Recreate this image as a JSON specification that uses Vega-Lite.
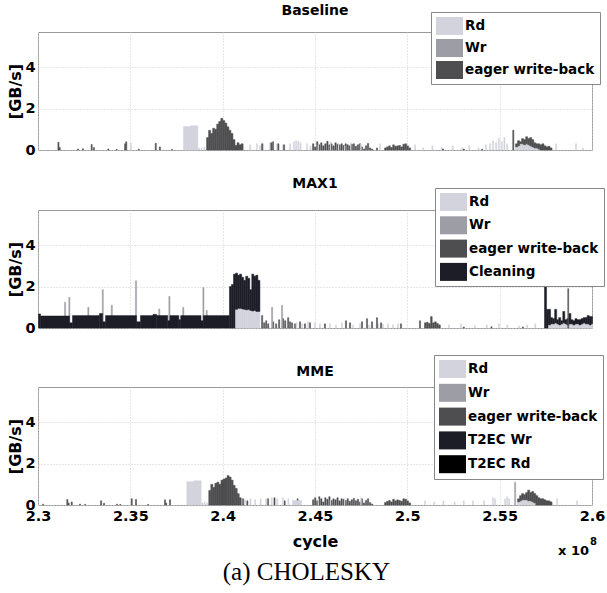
{
  "$schema": "https://vega.github.io/schema/vega-lite/v6.json",
  "background": "white",
  "padding": {"left": 7, "top": 3, "right": 0, "bottom": 0},
  "datasets": {
    "rank": [{"s":"Rd","k":0},{"s":"Wr","k":1},{"s":"eager write-back","k":2},{"s":"Cleaning","k":3},{"s":"T2EC Wr","k":4},{"s":"T2EC Rd","k":5}],
    "B": [
      {"s":"eager write-back","t":2.3105,"e":2.3111,"v":0.37},
      {"s":"eager write-back","t":2.3112,"e":2.3118,"v":0.12},
      {"s":"eager write-back","t":2.3211,"e":2.3217,"v":0.05},
      {"s":"eager write-back","t":2.3238,"e":2.3244,"v":0.06},
      {"s":"eager write-back","t":2.3285,"e":2.3291,"v":0.27},
      {"s":"eager write-back","t":2.3297,"e":2.3303,"v":0.12},
      {"s":"eager write-back","t":2.3375,"e":2.3381,"v":0.05},
      {"s":"eager write-back","t":2.342,"e":2.3426,"v":0.03},
      {"s":"eager write-back","t":2.3466,"e":2.3472,"v":0.3},
      {"s":"eager write-back","t":2.3472,"e":2.3478,"v":0.4},
      {"s":"Rd","t":2.3497,"e":2.3503,"v":0.35},
      {"s":"eager write-back","t":2.354,"e":2.3546,"v":0.04},
      {"s":"eager write-back","t":2.3632,"e":2.3638,"v":0.33},
      {"s":"eager write-back","t":2.3654,"e":2.366,"v":0.15},
      {"s":"eager write-back","t":2.372,"e":2.3726,"v":0.03},
      {"s":"Rd","t":2.3785,"e":2.3824,"v":1.13},
      {"s":"Rd","t":2.3824,"e":2.3863,"v":1.17},
      {"s":"Rd","t":2.3866,"e":2.3872,"v":0.1},
      {"s":"Rd","t":2.388,"e":2.3886,"v":0.08},
      {"s":"Rd","t":2.3895,"e":2.3901,"v":0.12},
      {"s":"eager write-back","t":2.391,"e":2.3921,"v":0.6},
      {"s":"eager write-back","t":2.3921,"e":2.3932,"v":0.95},
      {"s":"eager write-back","t":2.3932,"e":2.3943,"v":0.8},
      {"s":"eager write-back","t":2.3943,"e":2.3954,"v":1.05},
      {"s":"eager write-back","t":2.3954,"e":2.3965,"v":1.0},
      {"s":"eager write-back","t":2.3965,"e":2.3976,"v":1.25},
      {"s":"eager write-back","t":2.3976,"e":2.3987,"v":1.38},
      {"s":"eager write-back","t":2.3987,"e":2.3998,"v":1.53},
      {"s":"eager write-back","t":2.3998,"e":2.4009,"v":1.42},
      {"s":"eager write-back","t":2.4009,"e":2.402,"v":1.3},
      {"s":"eager write-back","t":2.402,"e":2.4031,"v":1.12},
      {"s":"eager write-back","t":2.4031,"e":2.4042,"v":0.95},
      {"s":"eager write-back","t":2.4042,"e":2.4053,"v":0.8},
      {"s":"eager write-back","t":2.4053,"e":2.4064,"v":0.5},
      {"s":"eager write-back","t":2.4064,"e":2.4075,"v":0.22},
      {"s":"eager write-back","t":2.4075,"e":2.4086,"v":0.35},
      {"s":"eager write-back","t":2.4086,"e":2.4097,"v":0.25},
      {"s":"eager write-back","t":2.4097,"e":2.4108,"v":0.3},
      {"s":"Rd","t":2.4143,"e":2.4149,"v":0.25},
      {"s":"Rd","t":2.418,"e":2.4186,"v":0.3},
      {"s":"Rd","t":2.4197,"e":2.4203,"v":0.2},
      {"s":"Rd","t":2.4213,"e":2.4219,"v":0.3},
      {"s":"Rd","t":2.4251,"e":2.4257,"v":0.35},
      {"s":"Rd","t":2.4289,"e":2.4295,"v":0.3},
      {"s":"Rd","t":2.4321,"e":2.4327,"v":0.25},
      {"s":"Rd","t":2.4359,"e":2.4365,"v":0.3},
      {"s":"Rd","t":2.438,"e":2.4386,"v":0.4},
      {"s":"Rd","t":2.4392,"e":2.4398,"v":0.45},
      {"s":"Rd","t":2.4404,"e":2.441,"v":0.42},
      {"s":"Rd","t":2.4416,"e":2.4422,"v":0.35},
      {"s":"Rd","t":2.4451,"e":2.4457,"v":0.3},
      {"s":"Rd","t":2.447,"e":2.4476,"v":0.2},
      {"s":"eager write-back","t":2.4208,"e":2.4214,"v":0.3},
      {"s":"eager write-back","t":2.4258,"e":2.4264,"v":0.35},
      {"s":"eager write-back","t":2.4267,"e":2.4273,"v":0.4},
      {"s":"eager write-back","t":2.4296,"e":2.4302,"v":0.3},
      {"s":"eager write-back","t":2.4327,"e":2.4333,"v":0.25},
      {"s":"eager write-back","t":2.4484,"e":2.4491,"v":0.3},
      {"s":"eager write-back","t":2.4495,"e":2.4502,"v":0.15},
      {"s":"eager write-back","t":2.4506,"e":2.4513,"v":0.4},
      {"s":"eager write-back","t":2.4517,"e":2.4524,"v":0.25},
      {"s":"eager write-back","t":2.4528,"e":2.4535,"v":0.35},
      {"s":"eager write-back","t":2.4539,"e":2.4546,"v":0.2},
      {"s":"eager write-back","t":2.455,"e":2.4557,"v":0.3},
      {"s":"eager write-back","t":2.4561,"e":2.4568,"v":0.42},
      {"s":"eager write-back","t":2.4572,"e":2.4579,"v":0.25},
      {"s":"eager write-back","t":2.4583,"e":2.459,"v":0.3},
      {"s":"eager write-back","t":2.4594,"e":2.4601,"v":0.2},
      {"s":"eager write-back","t":2.4605,"e":2.4612,"v":0.35},
      {"s":"eager write-back","t":2.4616,"e":2.4623,"v":0.28},
      {"s":"eager write-back","t":2.4627,"e":2.4634,"v":0.25},
      {"s":"eager write-back","t":2.4638,"e":2.4645,"v":0.3},
      {"s":"eager write-back","t":2.4649,"e":2.4656,"v":0.22},
      {"s":"eager write-back","t":2.466,"e":2.4667,"v":0.3},
      {"s":"eager write-back","t":2.4671,"e":2.4678,"v":0.25},
      {"s":"eager write-back","t":2.4682,"e":2.4689,"v":0.2},
      {"s":"eager write-back","t":2.4693,"e":2.47,"v":0.28},
      {"s":"eager write-back","t":2.4704,"e":2.4711,"v":0.3},
      {"s":"eager write-back","t":2.4715,"e":2.4722,"v":0.18},
      {"s":"eager write-back","t":2.4726,"e":2.4733,"v":0.25},
      {"s":"eager write-back","t":2.4737,"e":2.4744,"v":0.3},
      {"s":"eager write-back","t":2.4748,"e":2.4755,"v":0.15},
      {"s":"eager write-back","t":2.4759,"e":2.4766,"v":0.05},
      {"s":"eager write-back","t":2.477,"e":2.4777,"v":0.2},
      {"s":"eager write-back","t":2.4781,"e":2.4788,"v":0.32},
      {"s":"eager write-back","t":2.4792,"e":2.4799,"v":0.1},
      {"s":"eager write-back","t":2.4803,"e":2.481,"v":0.05},
      {"s":"Rd","t":2.4513,"e":2.4517,"v":0.25},
      {"s":"Rd","t":2.4579,"e":2.4583,"v":0.4},
      {"s":"Rd","t":2.4623,"e":2.4627,"v":0.3},
      {"s":"Rd","t":2.4656,"e":2.466,"v":0.2},
      {"s":"Rd","t":2.4689,"e":2.4693,"v":0.35},
      {"s":"Rd","t":2.4744,"e":2.4748,"v":0.3},
      {"s":"eager write-back","t":2.483,"e":2.4836,"v":0.1},
      {"s":"Rd","t":2.4846,"e":2.4852,"v":0.3},
      {"s":"eager write-back","t":2.4874,"e":2.4883,"v":0.1},
      {"s":"eager write-back","t":2.4885,"e":2.4894,"v":0.15},
      {"s":"eager write-back","t":2.4896,"e":2.4905,"v":0.2},
      {"s":"eager write-back","t":2.4907,"e":2.4916,"v":0.12},
      {"s":"eager write-back","t":2.4918,"e":2.4927,"v":0.25},
      {"s":"eager write-back","t":2.4929,"e":2.4938,"v":0.18},
      {"s":"eager write-back","t":2.494,"e":2.4949,"v":0.2},
      {"s":"eager write-back","t":2.4951,"e":2.496,"v":0.22},
      {"s":"eager write-back","t":2.4962,"e":2.4971,"v":0.15},
      {"s":"eager write-back","t":2.4973,"e":2.4982,"v":0.28},
      {"s":"eager write-back","t":2.4984,"e":2.4993,"v":0.3},
      {"s":"eager write-back","t":2.4995,"e":2.5004,"v":0.2},
      {"s":"eager write-back","t":2.5006,"e":2.5015,"v":0.1},
      {"s":"Rd","t":2.5036,"e":2.5042,"v":0.25},
      {"s":"Rd","t":2.508,"e":2.5086,"v":0.1},
      {"s":"Rd","t":2.513,"e":2.5136,"v":0.2},
      {"s":"Rd","t":2.518,"e":2.5186,"v":0.15},
      {"s":"Rd","t":2.524,"e":2.5246,"v":0.2},
      {"s":"Rd","t":2.529,"e":2.5296,"v":0.1},
      {"s":"Rd","t":2.533,"e":2.5336,"v":0.2},
      {"s":"Rd","t":2.538,"e":2.5386,"v":0.1},
      {"s":"Rd","t":2.542,"e":2.5426,"v":0.25},
      {"s":"eager write-back","t":2.5188,"e":2.5194,"v":0.05},
      {"s":"eager write-back","t":2.53,"e":2.5306,"v":0.05},
      {"s":"eager write-back","t":2.54,"e":2.5406,"v":0.04},
      {"s":"Rd","t":2.5442,"e":2.5448,"v":0.3},
      {"s":"Rd","t":2.5458,"e":2.5464,"v":0.45},
      {"s":"Rd","t":2.5475,"e":2.5481,"v":0.35},
      {"s":"Rd","t":2.549,"e":2.5496,"v":0.55},
      {"s":"Rd","t":2.5506,"e":2.5512,"v":0.4},
      {"s":"Rd","t":2.552,"e":2.5526,"v":0.6},
      {"s":"Rd","t":2.5535,"e":2.5541,"v":0.3},
      {"s":"eager write-back","t":2.5568,"e":2.5574,"v":0.96},
      {"s":"Rd","t":2.5583,"e":2.5594,"v":0.15},
      {"s":"Rd","t":2.5594,"e":2.5605,"v":0.2},
      {"s":"Rd","t":2.5605,"e":2.5616,"v":0.3},
      {"s":"Rd","t":2.5616,"e":2.5627,"v":0.3},
      {"s":"Rd","t":2.5627,"e":2.5638,"v":0.25},
      {"s":"Rd","t":2.5638,"e":2.5649,"v":0.3},
      {"s":"Rd","t":2.5649,"e":2.566,"v":0.25},
      {"s":"Rd","t":2.566,"e":2.5671,"v":0.2},
      {"s":"Rd","t":2.5671,"e":2.5682,"v":0.15},
      {"s":"Rd","t":2.5682,"e":2.5693,"v":0.1},
      {"s":"Rd","t":2.5693,"e":2.5704,"v":0.1},
      {"s":"Rd","t":2.5704,"e":2.5715,"v":0.05},
      {"s":"eager write-back","t":2.5583,"e":2.5594,"v":0.15},
      {"s":"eager write-back","t":2.5594,"e":2.5605,"v":0.25},
      {"s":"eager write-back","t":2.5605,"e":2.5616,"v":0.1},
      {"s":"eager write-back","t":2.5616,"e":2.5627,"v":0.25},
      {"s":"eager write-back","t":2.5627,"e":2.5638,"v":0.25},
      {"s":"eager write-back","t":2.5638,"e":2.5649,"v":0.34},
      {"s":"eager write-back","t":2.5649,"e":2.566,"v":0.3},
      {"s":"eager write-back","t":2.566,"e":2.5671,"v":0.4},
      {"s":"eager write-back","t":2.5671,"e":2.5682,"v":0.35},
      {"s":"eager write-back","t":2.5682,"e":2.5693,"v":0.25},
      {"s":"eager write-back","t":2.5693,"e":2.5704,"v":0.2},
      {"s":"eager write-back","t":2.5704,"e":2.5715,"v":0.25},
      {"s":"eager write-back","t":2.5715,"e":2.5726,"v":0.25},
      {"s":"eager write-back","t":2.5726,"e":2.5737,"v":0.3},
      {"s":"eager write-back","t":2.5737,"e":2.5748,"v":0.2},
      {"s":"eager write-back","t":2.5748,"e":2.5759,"v":0.15},
      {"s":"eager write-back","t":2.5759,"e":2.577,"v":0.18},
      {"s":"eager write-back","t":2.577,"e":2.5781,"v":0.1},
      {"s":"Rd","t":2.58,"e":2.5806,"v":0.3},
      {"s":"Rd","t":2.5908,"e":2.5914,"v":0.3},
      {"s":"Rd","t":2.5945,"e":2.5951,"v":0.1}
    ],
    "M": [
      {"s":"Wr","t":2.3141,"e":2.3147,"v":1.24},
      {"s":"Wr","t":2.3164,"e":2.317,"v":1.48},
      {"s":"Wr","t":2.3267,"e":2.3273,"v":1.0},
      {"s":"Wr","t":2.3345,"e":2.3351,"v":1.85},
      {"s":"Wr","t":2.3394,"e":2.34,"v":1.1},
      {"s":"Wr","t":2.3525,"e":2.3531,"v":2.28},
      {"s":"Wr","t":2.3651,"e":2.3657,"v":0.92},
      {"s":"Wr","t":2.3706,"e":2.3712,"v":1.53},
      {"s":"Wr","t":2.3781,"e":2.3787,"v":1.0},
      {"s":"Wr","t":2.389,"e":2.3896,"v":1.96},
      {"s":"Wr","t":2.3908,"e":2.3914,"v":0.85},
      {"s":"Cleaning","t":2.3,"e":2.3011,"v":0.68},
      {"s":"Cleaning","t":2.3011,"e":2.3168,"v":0.58},
      {"s":"Cleaning","t":2.3168,"e":2.3184,"v":0.25},
      {"s":"Cleaning","t":2.3184,"e":2.333,"v":0.6},
      {"s":"Cleaning","t":2.333,"e":2.3347,"v":0.7},
      {"s":"Cleaning","t":2.3347,"e":2.3363,"v":0.3},
      {"s":"Cleaning","t":2.3363,"e":2.3531,"v":0.6},
      {"s":"Cleaning","t":2.3531,"e":2.3552,"v":0.3},
      {"s":"Cleaning","t":2.3552,"e":2.362,"v":0.6},
      {"s":"Cleaning","t":2.362,"e":2.364,"v":0.66},
      {"s":"Cleaning","t":2.364,"e":2.37,"v":0.6},
      {"s":"Cleaning","t":2.37,"e":2.3712,"v":0.35},
      {"s":"Cleaning","t":2.3712,"e":2.376,"v":0.6},
      {"s":"Cleaning","t":2.376,"e":2.377,"v":0.4},
      {"s":"Cleaning","t":2.377,"e":2.388,"v":0.6},
      {"s":"Cleaning","t":2.388,"e":2.3892,"v":0.35},
      {"s":"Cleaning","t":2.3892,"e":2.4034,"v":0.6},
      {"s":"Cleaning","t":2.4034,"e":2.4045,"v":2.0},
      {"s":"Cleaning","t":2.4045,"e":2.4056,"v":2.1},
      {"s":"Cleaning","t":2.4056,"e":2.4067,"v":2.6},
      {"s":"Rd","t":2.4067,"e":2.4078,"v":0.9},
      {"s":"Rd","t":2.4078,"e":2.4089,"v":0.95},
      {"s":"Rd","t":2.4089,"e":2.41,"v":0.95},
      {"s":"Rd","t":2.41,"e":2.4111,"v":0.92},
      {"s":"Rd","t":2.4111,"e":2.4122,"v":0.9},
      {"s":"Rd","t":2.4122,"e":2.4133,"v":0.88},
      {"s":"Rd","t":2.4133,"e":2.4144,"v":0.9},
      {"s":"Rd","t":2.4144,"e":2.4155,"v":0.85},
      {"s":"Rd","t":2.4155,"e":2.4166,"v":0.82},
      {"s":"Rd","t":2.4166,"e":2.4177,"v":0.85},
      {"s":"Rd","t":2.4177,"e":2.4188,"v":0.8},
      {"s":"Rd","t":2.4188,"e":2.4199,"v":0.8},
      {"s":"Cleaning","t":2.4067,"e":2.4078,"v":1.75},
      {"s":"Cleaning","t":2.4078,"e":2.4089,"v":1.6},
      {"s":"Cleaning","t":2.4089,"e":2.41,"v":1.65},
      {"s":"Cleaning","t":2.41,"e":2.4111,"v":1.53},
      {"s":"Cleaning","t":2.4111,"e":2.4122,"v":1.4},
      {"s":"Cleaning","t":2.4122,"e":2.4133,"v":1.62},
      {"s":"Cleaning","t":2.4133,"e":2.4144,"v":1.5},
      {"s":"Cleaning","t":2.4144,"e":2.4155,"v":1.0},
      {"s":"Cleaning","t":2.4155,"e":2.4166,"v":1.78},
      {"s":"Cleaning","t":2.4166,"e":2.4177,"v":1.65},
      {"s":"Cleaning","t":2.4177,"e":2.4188,"v":1.75},
      {"s":"Cleaning","t":2.4188,"e":2.4199,"v":1.5},
      {"s":"eager write-back","t":2.4208,"e":2.4214,"v":0.6},
      {"s":"eager write-back","t":2.4219,"e":2.4225,"v":0.25},
      {"s":"eager write-back","t":2.423,"e":2.4236,"v":0.35},
      {"s":"eager write-back","t":2.4241,"e":2.4247,"v":0.2},
      {"s":"eager write-back","t":2.4268,"e":2.4274,"v":0.3},
      {"s":"eager write-back","t":2.4284,"e":2.429,"v":0.2},
      {"s":"eager write-back","t":2.43,"e":2.4306,"v":0.4},
      {"s":"eager write-back","t":2.4322,"e":2.4328,"v":0.45},
      {"s":"eager write-back","t":2.4333,"e":2.4339,"v":0.35},
      {"s":"eager write-back","t":2.4349,"e":2.4355,"v":0.5},
      {"s":"eager write-back","t":2.4359,"e":2.4365,"v":0.3},
      {"s":"eager write-back","t":2.437,"e":2.4376,"v":0.25},
      {"s":"eager write-back","t":2.4386,"e":2.4392,"v":0.2},
      {"s":"eager write-back","t":2.4413,"e":2.4419,"v":0.3},
      {"s":"eager write-back","t":2.444,"e":2.4446,"v":0.2},
      {"s":"eager write-back","t":2.4467,"e":2.4473,"v":0.25},
      {"s":"Wr","t":2.4262,"e":2.4268,"v":1.0},
      {"s":"Wr","t":2.4316,"e":2.4322,"v":1.1},
      {"s":"Rd","t":2.4395,"e":2.4401,"v":0.25},
      {"s":"Rd","t":2.4424,"e":2.443,"v":0.2},
      {"s":"Rd","t":2.4457,"e":2.4463,"v":0.3},
      {"s":"Rd","t":2.4494,"e":2.45,"v":0.25},
      {"s":"Rd","t":2.4521,"e":2.4527,"v":0.2},
      {"s":"Rd","t":2.4575,"e":2.4581,"v":0.2},
      {"s":"Rd","t":2.4608,"e":2.4614,"v":0.15},
      {"s":"Rd","t":2.464,"e":2.4646,"v":0.25},
      {"s":"Rd","t":2.47,"e":2.4706,"v":0.15},
      {"s":"Rd","t":2.4738,"e":2.4744,"v":0.2},
      {"s":"Rd","t":2.4787,"e":2.4793,"v":0.15},
      {"s":"Rd","t":2.4836,"e":2.4842,"v":0.2},
      {"s":"Rd","t":2.4863,"e":2.4869,"v":0.18},
      {"s":"Rd","t":2.489,"e":2.4896,"v":0.2},
      {"s":"Rd","t":2.4917,"e":2.4923,"v":0.15},
      {"s":"Rd","t":2.4944,"e":2.495,"v":0.2},
      {"s":"eager write-back","t":2.4548,"e":2.4554,"v":0.2},
      {"s":"eager write-back","t":2.4662,"e":2.4668,"v":0.35},
      {"s":"eager write-back","t":2.4684,"e":2.469,"v":0.25},
      {"s":"eager write-back","t":2.4749,"e":2.4755,"v":0.3},
      {"s":"eager write-back","t":2.4776,"e":2.4782,"v":0.45},
      {"s":"eager write-back","t":2.4803,"e":2.4809,"v":0.3},
      {"s":"eager write-back","t":2.483,"e":2.4836,"v":0.5},
      {"s":"eager write-back","t":2.4852,"e":2.4858,"v":0.25},
      {"s":"eager write-back","t":2.496,"e":2.4966,"v":0.2},
      {"s":"eager write-back","t":2.5063,"e":2.5069,"v":0.35},
      {"s":"eager write-back","t":2.509,"e":2.5099,"v":0.25},
      {"s":"eager write-back","t":2.5101,"e":2.511,"v":0.28},
      {"s":"eager write-back","t":2.5112,"e":2.5121,"v":0.22},
      {"s":"eager write-back","t":2.5123,"e":2.5132,"v":0.55},
      {"s":"eager write-back","t":2.5134,"e":2.5143,"v":0.25},
      {"s":"eager write-back","t":2.5145,"e":2.5154,"v":0.3},
      {"s":"eager write-back","t":2.5156,"e":2.5165,"v":0.22},
      {"s":"eager write-back","t":2.5167,"e":2.5176,"v":0.15},
      {"s":"Rd","t":2.522,"e":2.5226,"v":0.15},
      {"s":"Rd","t":2.5285,"e":2.5291,"v":0.2},
      {"s":"Rd","t":2.536,"e":2.5366,"v":0.12},
      {"s":"Rd","t":2.5425,"e":2.5431,"v":0.15},
      {"s":"Rd","t":2.549,"e":2.5496,"v":0.2},
      {"s":"Rd","t":2.5535,"e":2.5541,"v":0.15},
      {"s":"Rd","t":2.56,"e":2.5606,"v":0.1},
      {"s":"Rd","t":2.5643,"e":2.5649,"v":0.15},
      {"s":"Rd","t":2.5687,"e":2.5693,"v":0.2},
      {"s":"eager write-back","t":2.53,"e":2.5306,"v":0.05},
      {"s":"eager write-back","t":2.545,"e":2.5456,"v":0.06},
      {"s":"eager write-back","t":2.562,"e":2.5626,"v":0.05},
      {"s":"Cleaning","t":2.574,"e":2.5751,"v":3.0},
      {"s":"Cleaning","t":2.5751,"e":2.5762,"v":0.9},
      {"s":"Rd","t":2.5762,"e":2.5773,"v":0.15},
      {"s":"Rd","t":2.5773,"e":2.5784,"v":0.2},
      {"s":"Rd","t":2.5784,"e":2.5795,"v":0.2},
      {"s":"Rd","t":2.5795,"e":2.5806,"v":0.25},
      {"s":"Rd","t":2.5806,"e":2.5817,"v":0.2},
      {"s":"Rd","t":2.5817,"e":2.5828,"v":0.15},
      {"s":"Rd","t":2.5828,"e":2.5839,"v":0.2},
      {"s":"Rd","t":2.5839,"e":2.585,"v":0.25},
      {"s":"Rd","t":2.585,"e":2.5861,"v":0.2},
      {"s":"Rd","t":2.5861,"e":2.5872,"v":0.15},
      {"s":"Rd","t":2.5872,"e":2.5883,"v":0.2},
      {"s":"Rd","t":2.5883,"e":2.5894,"v":0.2},
      {"s":"Rd","t":2.5894,"e":2.5905,"v":0.15},
      {"s":"Rd","t":2.5905,"e":2.5916,"v":0.2},
      {"s":"Rd","t":2.5916,"e":2.5927,"v":0.2},
      {"s":"Rd","t":2.5927,"e":2.5938,"v":0.15},
      {"s":"Rd","t":2.5938,"e":2.5949,"v":0.2},
      {"s":"Rd","t":2.5949,"e":2.596,"v":0.25},
      {"s":"Rd","t":2.596,"e":2.5971,"v":0.2},
      {"s":"Rd","t":2.5971,"e":2.5982,"v":0.2},
      {"s":"Rd","t":2.5982,"e":2.5993,"v":0.15},
      {"s":"Rd","t":2.5993,"e":2.6,"v":0.2},
      {"s":"Cleaning","t":2.5762,"e":2.5773,"v":0.75},
      {"s":"Cleaning","t":2.5773,"e":2.5784,"v":0.3},
      {"s":"Cleaning","t":2.5784,"e":2.5795,"v":0.25},
      {"s":"Cleaning","t":2.5795,"e":2.5806,"v":0.65},
      {"s":"Cleaning","t":2.5806,"e":2.5817,"v":0.2},
      {"s":"Cleaning","t":2.5817,"e":2.5828,"v":0.35},
      {"s":"Cleaning","t":2.5828,"e":2.5839,"v":0.15},
      {"s":"Cleaning","t":2.5839,"e":2.585,"v":0.55},
      {"s":"Cleaning","t":2.585,"e":2.5861,"v":0.2},
      {"s":"Cleaning","t":2.5861,"e":2.5872,"v":0.3},
      {"s":"Cleaning","t":2.5872,"e":2.5883,"v":0.5},
      {"s":"Cleaning","t":2.5883,"e":2.5894,"v":0.2},
      {"s":"Cleaning","t":2.5894,"e":2.5905,"v":0.2},
      {"s":"Cleaning","t":2.5905,"e":2.5916,"v":0.25},
      {"s":"Cleaning","t":2.5916,"e":2.5927,"v":0.2},
      {"s":"Cleaning","t":2.5927,"e":2.5938,"v":0.25},
      {"s":"Cleaning","t":2.5938,"e":2.5949,"v":0.25},
      {"s":"Cleaning","t":2.5949,"e":2.596,"v":0.25},
      {"s":"Cleaning","t":2.596,"e":2.5971,"v":0.3},
      {"s":"Cleaning","t":2.5971,"e":2.5982,"v":0.4},
      {"s":"Cleaning","t":2.5982,"e":2.5993,"v":0.4},
      {"s":"Cleaning","t":2.5993,"e":2.6,"v":0.35},
      {"s":"eager write-back","t":2.5866,"e":2.5871,"v":1.9}
    ],
    "E": [
      {"s":"eager write-back","t":2.3022,"e":2.3028,"v":0.04},
      {"s":"eager write-back","t":2.3153,"e":2.3159,"v":0.27},
      {"s":"eager write-back","t":2.316,"e":2.3166,"v":0.1},
      {"s":"eager write-back","t":2.3177,"e":2.3183,"v":0.15},
      {"s":"eager write-back","t":2.3222,"e":2.3228,"v":0.04},
      {"s":"eager write-back","t":2.325,"e":2.3256,"v":0.03},
      {"s":"eager write-back","t":2.3336,"e":2.3342,"v":0.2},
      {"s":"eager write-back","t":2.3352,"e":2.3358,"v":0.08},
      {"s":"eager write-back","t":2.3422,"e":2.3428,"v":0.04},
      {"s":"eager write-back","t":2.344,"e":2.3446,"v":0.03},
      {"s":"eager write-back","t":2.3502,"e":2.3508,"v":0.3},
      {"s":"eager write-back","t":2.3525,"e":2.3531,"v":0.27},
      {"s":"eager write-back","t":2.359,"e":2.3596,"v":0.03},
      {"s":"eager write-back","t":2.3682,"e":2.3688,"v":0.25},
      {"s":"eager write-back","t":2.3688,"e":2.3694,"v":0.1},
      {"s":"eager write-back","t":2.3709,"e":2.3715,"v":0.25},
      {"s":"Rd","t":2.3803,"e":2.3842,"v":1.13},
      {"s":"Rd","t":2.3842,"e":2.3881,"v":1.17},
      {"s":"Rd","t":2.3885,"e":2.3891,"v":0.1},
      {"s":"Rd","t":2.3897,"e":2.3903,"v":0.15},
      {"s":"Rd","t":2.391,"e":2.3916,"v":0.1},
      {"s":"eager write-back","t":2.3922,"e":2.3933,"v":0.7},
      {"s":"eager write-back","t":2.3933,"e":2.3944,"v":1.0},
      {"s":"eager write-back","t":2.3944,"e":2.3955,"v":0.85},
      {"s":"eager write-back","t":2.3955,"e":2.3966,"v":1.05},
      {"s":"eager write-back","t":2.3966,"e":2.3977,"v":1.1},
      {"s":"eager write-back","t":2.3977,"e":2.3988,"v":1.0},
      {"s":"eager write-back","t":2.3988,"e":2.3999,"v":1.2},
      {"s":"eager write-back","t":2.3999,"e":2.401,"v":1.25},
      {"s":"eager write-back","t":2.401,"e":2.4021,"v":1.3},
      {"s":"eager write-back","t":2.4021,"e":2.4032,"v":1.42},
      {"s":"eager write-back","t":2.4032,"e":2.4043,"v":1.35},
      {"s":"eager write-back","t":2.4043,"e":2.4054,"v":1.2},
      {"s":"eager write-back","t":2.4054,"e":2.4065,"v":0.95},
      {"s":"eager write-back","t":2.4065,"e":2.4076,"v":0.8},
      {"s":"eager write-back","t":2.4076,"e":2.4087,"v":0.55},
      {"s":"eager write-back","t":2.4087,"e":2.4098,"v":0.35},
      {"s":"eager write-back","t":2.4105,"e":2.4111,"v":0.3},
      {"s":"eager write-back","t":2.4128,"e":2.4134,"v":0.2},
      {"s":"eager write-back","t":2.424,"e":2.4246,"v":0.3},
      {"s":"eager write-back","t":2.4275,"e":2.4281,"v":0.35},
      {"s":"eager write-back","t":2.433,"e":2.4336,"v":0.2},
      {"s":"eager write-back","t":2.44,"e":2.4406,"v":0.3},
      {"s":"Rd","t":2.4115,"e":2.4121,"v":0.25},
      {"s":"Rd","t":2.4145,"e":2.4151,"v":0.3},
      {"s":"Rd","t":2.417,"e":2.4176,"v":0.25},
      {"s":"Rd","t":2.42,"e":2.4206,"v":0.3},
      {"s":"Rd","t":2.423,"e":2.4236,"v":0.3},
      {"s":"Rd","t":2.426,"e":2.4266,"v":0.35},
      {"s":"Rd","t":2.429,"e":2.4296,"v":0.3},
      {"s":"Rd","t":2.432,"e":2.4326,"v":0.35},
      {"s":"Rd","t":2.435,"e":2.4356,"v":0.3},
      {"s":"Rd","t":2.4375,"e":2.4424,"v":0.22},
      {"s":"eager write-back","t":2.4484,"e":2.4491,"v":0.25},
      {"s":"eager write-back","t":2.4495,"e":2.4502,"v":0.35},
      {"s":"eager write-back","t":2.4506,"e":2.4513,"v":0.2},
      {"s":"eager write-back","t":2.4517,"e":2.4524,"v":0.4},
      {"s":"eager write-back","t":2.4528,"e":2.4535,"v":0.3},
      {"s":"eager write-back","t":2.4539,"e":2.4546,"v":0.15},
      {"s":"eager write-back","t":2.455,"e":2.4557,"v":0.35},
      {"s":"eager write-back","t":2.4561,"e":2.4568,"v":0.28},
      {"s":"eager write-back","t":2.4572,"e":2.4579,"v":0.4},
      {"s":"eager write-back","t":2.4583,"e":2.459,"v":0.22},
      {"s":"eager write-back","t":2.4594,"e":2.4601,"v":0.3},
      {"s":"eager write-back","t":2.4605,"e":2.4612,"v":0.25},
      {"s":"eager write-back","t":2.4616,"e":2.4623,"v":0.35},
      {"s":"eager write-back","t":2.4627,"e":2.4634,"v":0.2},
      {"s":"eager write-back","t":2.4638,"e":2.4645,"v":0.3},
      {"s":"eager write-back","t":2.4649,"e":2.4656,"v":0.28},
      {"s":"eager write-back","t":2.466,"e":2.4667,"v":0.22},
      {"s":"eager write-back","t":2.4671,"e":2.4678,"v":0.3},
      {"s":"eager write-back","t":2.4682,"e":2.4689,"v":0.18},
      {"s":"eager write-back","t":2.4693,"e":2.47,"v":0.25},
      {"s":"eager write-back","t":2.4704,"e":2.4711,"v":0.32},
      {"s":"eager write-back","t":2.4715,"e":2.4722,"v":0.2},
      {"s":"eager write-back","t":2.4726,"e":2.4733,"v":0.28},
      {"s":"eager write-back","t":2.4737,"e":2.4744,"v":0.15},
      {"s":"eager write-back","t":2.4748,"e":2.4755,"v":0.3},
      {"s":"eager write-back","t":2.4759,"e":2.4766,"v":0.1},
      {"s":"eager write-back","t":2.477,"e":2.4777,"v":0.22},
      {"s":"eager write-back","t":2.4781,"e":2.4788,"v":0.3},
      {"s":"eager write-back","t":2.4792,"e":2.4799,"v":0.12},
      {"s":"eager write-back","t":2.4803,"e":2.481,"v":0.05},
      {"s":"Rd","t":2.4513,"e":2.4517,"v":0.3},
      {"s":"Rd","t":2.4579,"e":2.4583,"v":0.25},
      {"s":"Rd","t":2.4656,"e":2.466,"v":0.3},
      {"s":"Rd","t":2.4744,"e":2.4748,"v":0.35},
      {"s":"eager write-back","t":2.4874,"e":2.4883,"v":0.12},
      {"s":"eager write-back","t":2.4885,"e":2.4894,"v":0.18},
      {"s":"eager write-back","t":2.4896,"e":2.4905,"v":0.22},
      {"s":"eager write-back","t":2.4907,"e":2.4916,"v":0.15},
      {"s":"eager write-back","t":2.4918,"e":2.4927,"v":0.28},
      {"s":"eager write-back","t":2.4929,"e":2.4938,"v":0.2},
      {"s":"eager write-back","t":2.494,"e":2.4949,"v":0.25},
      {"s":"eager write-back","t":2.4951,"e":2.496,"v":0.22},
      {"s":"eager write-back","t":2.4962,"e":2.4971,"v":0.18},
      {"s":"eager write-back","t":2.4973,"e":2.4982,"v":0.3},
      {"s":"eager write-back","t":2.4984,"e":2.4993,"v":0.28},
      {"s":"eager write-back","t":2.4995,"e":2.5004,"v":0.2},
      {"s":"eager write-back","t":2.5006,"e":2.5015,"v":0.1},
      {"s":"Rd","t":2.509,"e":2.5096,"v":0.2},
      {"s":"Rd","t":2.514,"e":2.5146,"v":0.15},
      {"s":"Rd","t":2.519,"e":2.5196,"v":0.2},
      {"s":"Rd","t":2.525,"e":2.5256,"v":0.15},
      {"s":"Rd","t":2.53,"e":2.5306,"v":0.2},
      {"s":"Rd","t":2.535,"e":2.5356,"v":0.2},
      {"s":"Rd","t":2.541,"e":2.5416,"v":0.2},
      {"s":"Rd","t":2.5458,"e":2.5464,"v":0.35},
      {"s":"Rd","t":2.547,"e":2.5476,"v":0.3},
      {"s":"Rd","t":2.5523,"e":2.5529,"v":0.3},
      {"s":"Rd","t":2.5535,"e":2.5541,"v":0.4},
      {"s":"Rd","t":2.5546,"e":2.5552,"v":0.3},
      {"s":"Wr","t":2.5578,"e":2.5584,"v":1.1},
      {"s":"Rd","t":2.5594,"e":2.5605,"v":0.15},
      {"s":"Rd","t":2.5605,"e":2.5616,"v":0.2},
      {"s":"Rd","t":2.5616,"e":2.5627,"v":0.25},
      {"s":"Rd","t":2.5627,"e":2.5638,"v":0.25},
      {"s":"Rd","t":2.5638,"e":2.5649,"v":0.25},
      {"s":"Rd","t":2.5649,"e":2.566,"v":0.2},
      {"s":"Rd","t":2.566,"e":2.5671,"v":0.2},
      {"s":"Rd","t":2.5671,"e":2.5682,"v":0.15},
      {"s":"Rd","t":2.5682,"e":2.5693,"v":0.1},
      {"s":"eager write-back","t":2.5594,"e":2.5605,"v":0.15},
      {"s":"eager write-back","t":2.5605,"e":2.5616,"v":0.25},
      {"s":"eager write-back","t":2.5616,"e":2.5627,"v":0.3},
      {"s":"eager write-back","t":2.5627,"e":2.5638,"v":0.25},
      {"s":"eager write-back","t":2.5638,"e":2.5649,"v":0.35},
      {"s":"eager write-back","t":2.5649,"e":2.566,"v":0.52},
      {"s":"eager write-back","t":2.566,"e":2.5671,"v":0.4},
      {"s":"eager write-back","t":2.5671,"e":2.5682,"v":0.5},
      {"s":"eager write-back","t":2.5682,"e":2.5693,"v":0.45},
      {"s":"eager write-back","t":2.5693,"e":2.5704,"v":0.45},
      {"s":"eager write-back","t":2.5704,"e":2.5715,"v":0.35},
      {"s":"eager write-back","t":2.5715,"e":2.5726,"v":0.3},
      {"s":"eager write-back","t":2.5726,"e":2.5737,"v":0.3},
      {"s":"eager write-back","t":2.5737,"e":2.5748,"v":0.25},
      {"s":"eager write-back","t":2.5748,"e":2.5759,"v":0.2},
      {"s":"eager write-back","t":2.5759,"e":2.577,"v":0.2},
      {"s":"eager write-back","t":2.577,"e":2.5781,"v":0.15},
      {"s":"Rd","t":2.5805,"e":2.5811,"v":0.3},
      {"s":"Rd","t":2.5913,"e":2.5919,"v":0.2}
    ]
  },
  "config": {
    "font": "DejaVu Sans",
    "view": {"stroke": "#999999", "strokeWidth": 1},
    "axis": {
      "labelFont": "DejaVu Sans", "labelFontWeight": "bold", "labelFontSize": 14.5, "labelColor": "#000000",
      "titleFont": "DejaVu Sans", "titleFontWeight": "bold", "titleFontSize": 16, "titleColor": "#000000",
      "gridColor": "#cfcfcf", "gridDash": [1, 2], "gridWidth": 1, "domain": false, "ticks": false
    },
    "title": {"font": "DejaVu Sans", "fontWeight": "bold", "fontSize": 14, "color": "#000000"},
    "legend": {
      "labelFont": "DejaVu Sans", "labelFontSize": 13.5, "labelFontWeight": "bold", "labelColor": "#000000",
      "strokeColor": "#888888", "fillColor": "#ffffff", "padding": 5, "rowPadding": 5, "labelOffset": 11,
      "symbolSize": 324, "symbolStrokeWidth": 0, "symbolOpacity": 1, "cornerRadius": 0
    }
  },
  "title": {"text": "(a) CHOLESKY", "orient": "bottom", "anchor": "middle", "font": "Liberation Serif", "fontSize": 25, "fontWeight": "normal", "offset": 2},
  "spacing": 19,
  "resolve": {"scale": {"color": "independent", "stroke": "independent"}},
  "vconcat": [
    {
      "width": 554, "height": 118,
      "title": {"text": "Baseline", "frame": "group", "offset": -6},
      "data": {"name": "B"},
      "transform": [{"lookup": "s", "from": {"data": {"name": "rank"}, "key": "s", "fields": ["k"]}}],
      "mark": {"type": "bar", "binSpacing": 0, "strokeWidth": 0.5},
      "encoding": {
        "x": {"field": "t", "type": "quantitative", "bin": {"binned": true}, "scale": {"domain": [2.3, 2.6], "nice": false, "zero": false},
              "axis": {"values": [2.3, 2.35, 2.4, 2.45, 2.5, 2.55, 2.6], "labels": false, "grid": true, "title": null}},
        "x2": {"field": "e"},
        "y": {"field": "v", "type": "quantitative", "stack": "zero", "scale": {"domain": [0, 5.7], "nice": false},
              "axis": {"values": [0, 2, 4], "title": "[GB/s]", "grid": true, "labelPadding": 3, "titlePadding": 1}},
        "color": {"field": "s", "type": "nominal",
                  "scale": {"domain": ["Rd", "Wr", "eager write-back"], "range": ["#d3d3dd", "#9d9da5", "#4e4e50"]},
                  "legend": {"title": null, "orient": "none", "legendX": 393, "legendY": -20, "rowPadding": 4, "symbolType": "M-1,-1H2V1H-1Z"}},
        "stroke": {"field": "s", "type": "nominal", "legend": null,
                   "scale": {"domain": ["Rd", "Wr", "eager write-back"], "range": ["#d3d3dd", "#9d9da5", "#4e4e50"]}},
        "order": {"field": "k", "type": "quantitative", "sort": "ascending"}
      }
    },
    {
      "width": 554, "height": 118,
      "title": {"text": "MAX1", "frame": "group", "offset": -3},
      "data": {"name": "M"},
      "transform": [{"lookup": "s", "from": {"data": {"name": "rank"}, "key": "s", "fields": ["k"]}}],
      "mark": {"type": "bar", "binSpacing": 0, "strokeWidth": 0.5},
      "encoding": {
        "x": {"field": "t", "type": "quantitative", "bin": {"binned": true}, "scale": {"domain": [2.3, 2.6], "nice": false, "zero": false},
              "axis": {"values": [2.3, 2.35, 2.4, 2.45, 2.5, 2.55, 2.6], "labels": false, "grid": true, "title": null}},
        "x2": {"field": "e"},
        "y": {"field": "v", "type": "quantitative", "stack": "zero", "scale": {"domain": [0, 5.7], "nice": false},
              "axis": {"values": [0, 2, 4], "title": "[GB/s]", "grid": true, "labelPadding": 3, "titlePadding": 1}},
        "color": {"field": "s", "type": "nominal",
                  "scale": {"domain": ["Rd", "Wr", "eager write-back", "Cleaning"], "range": ["#d3d3dd", "#9d9da5", "#4e4e50", "#1d1d27"]},
                  "legend": {"title": null, "orient": "none", "legendX": 397, "legendY": -22, "rowPadding": 5.3, "symbolType": "M-1,-1H2V1H-1Z"}},
        "stroke": {"field": "s", "type": "nominal", "legend": null,
                   "scale": {"domain": ["Rd", "Wr", "eager write-back", "Cleaning"], "range": ["#d3d3dd", "#9d9da5", "#4e4e50", "#1d1d27"]}},
        "order": {"field": "k", "type": "quantitative", "sort": "ascending"}
      }
    },
    {
      "width": 554, "height": 118,
      "title": {"text": "MME", "frame": "group", "offset": -24},
      "layer": [
        {
          "data": {"name": "E"},
          "transform": [{"lookup": "s", "from": {"data": {"name": "rank"}, "key": "s", "fields": ["k"]}}],
          "mark": {"type": "bar", "binSpacing": 0, "strokeWidth": 0.5},
          "encoding": {
            "x": {"field": "t", "type": "quantitative", "bin": {"binned": true}, "scale": {"domain": [2.3, 2.6], "nice": false, "zero": false},
                  "axis": {"values": [2.3, 2.35, 2.4, 2.45, 2.5, 2.55, 2.6], "format": "~g", "labelFlush": false, "grid": true, "title": "cycle", "labelPadding": 4, "titlePadding": 11}},
            "x2": {"field": "e"},
            "y": {"field": "v", "type": "quantitative", "stack": "zero", "scale": {"domain": [0, 5.7], "nice": false},
                  "axis": {"values": [0, 2, 4], "title": "[GB/s]", "grid": true, "labelPadding": 3, "titlePadding": 1}},
            "color": {"field": "s", "type": "nominal",
                      "scale": {"domain": ["Rd", "Wr", "eager write-back", "T2EC Wr", "T2EC Rd"], "range": ["#d3d3dd", "#9d9da5", "#4e4e50", "#1d1d27", "#000000"]},
                      "legend": {"title": null, "orient": "none", "legendX": 396, "legendY": -32, "rowPadding": 5.8, "symbolType": "M-1,-1H2V1H-1Z"}},
            "stroke": {"field": "s", "type": "nominal", "legend": null,
                       "scale": {"domain": ["Rd", "Wr", "eager write-back", "T2EC Wr", "T2EC Rd"], "range": ["#d3d3dd", "#9d9da5", "#4e4e50", "#1d1d27", "#000000"]}},
            "order": {"field": "k", "type": "quantitative", "sort": "ascending"}
          }
        },
        {
          "data": {"values": [{}]},
          "mark": {"type": "text", "align": "right", "baseline": "middle", "font": "DejaVu Sans", "fontWeight": "bold", "fontSize": 13, "dx": -3},
          "encoding": {
            "x": {"datum": 2.6},
            "y": {"datum": -2.2},
            "text": {"value": "x 10"}
          }
        },
        {
          "data": {"values": [{}]},
          "mark": {"type": "text", "align": "left", "baseline": "middle", "font": "DejaVu Sans", "fontWeight": "bold", "fontSize": 10, "dx": -2, "dy": -9},
          "encoding": {
            "x": {"datum": 2.6},
            "y": {"datum": -2.2},
            "text": {"value": "8"}
          }
        }
      ]
    }
  ]
}
